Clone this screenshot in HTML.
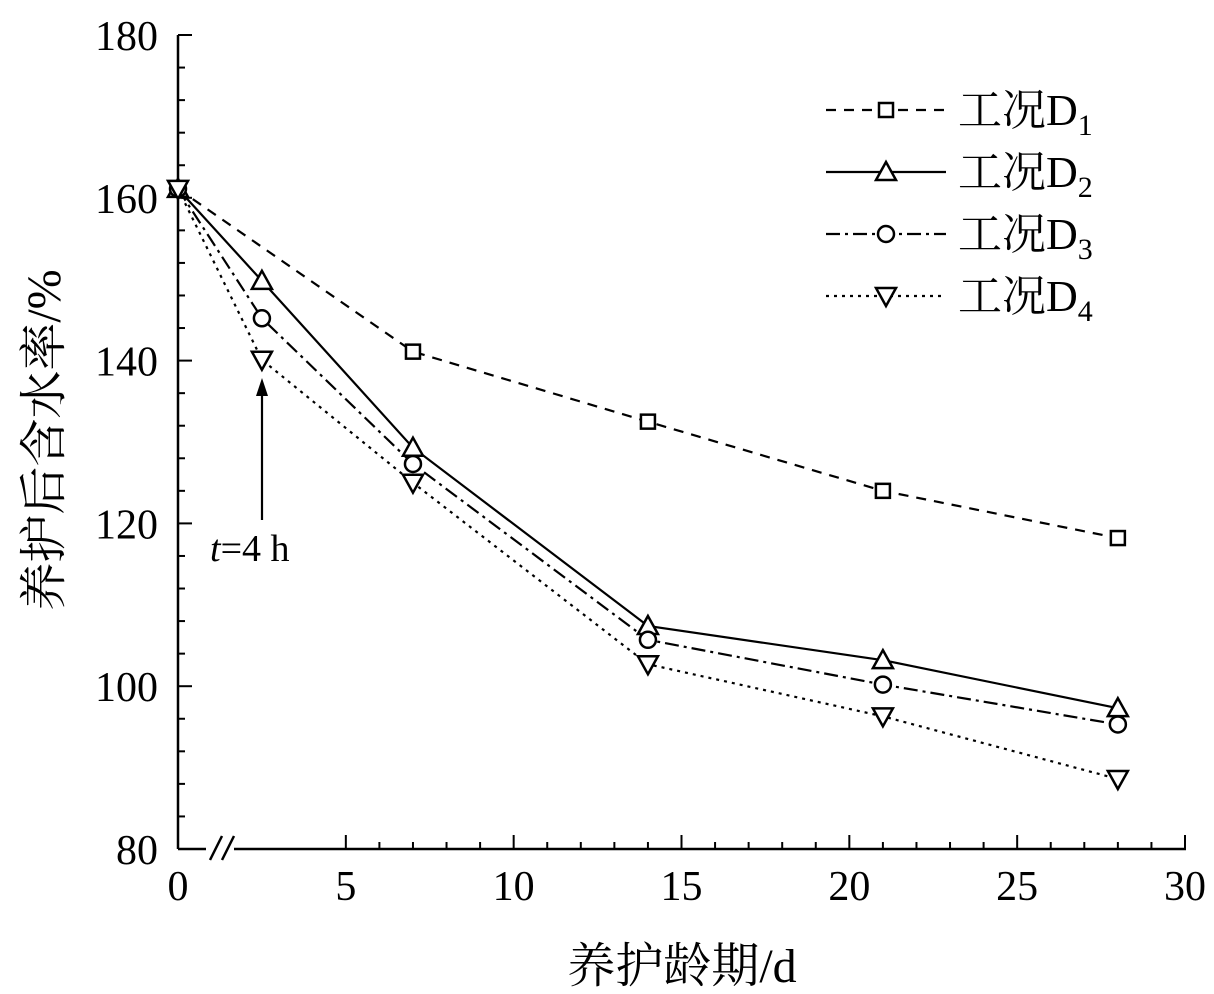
<!DOCTYPE html>
<html><head><meta charset="utf-8"><style>
html,body{margin:0;padding:0;background:#fff;}
svg{display:block;font-family:"Liberation Serif","Noto Serif CJK SC",serif;}
</style></head><body>
<svg id="chart" width="1214" height="994" viewBox="0 0 1214 994"></svg>
<script>
const xCats = [0, 2.5, 7, 14, 21, 28];
const d1 = [161.1, null, 141.1, 132.5, 124.0, 118.2];
const d2 = [161.1, 149.8, 129.3, 107.4, 103.2, 97.3];
const d3 = [161.1, 145.2, 127.3, 105.7, 100.2, 95.3];
const d4 = [161.1, 140.1, 125.0, 102.7, 96.3, 88.6];
const xTicks = [0, 5, 10, 15, 20, 25, 30];
const yTicks = [80, 100, 120, 140, 160, 180];

const NS = "http://www.w3.org/2000/svg";
const svg = document.getElementById('chart');
const X = v => 178 + v * (1185 - 178) / 30;
const Y = v => 849 - (v - 80) * (849 - 35) / 100;
function mk(tag, attrs, parent) {
  const e = document.createElementNS(NS, tag);
  for (const k in attrs) e.setAttribute(k, attrs[k]);
  (parent || svg).appendChild(e);
  return e;
}
let e = mk('line', {x1:178, y1:35, x2:178, y2:849, stroke:'#000','stroke-width':2.5});


e = mk('line', {x1:178, y1:849, x2:1186, y2:849, stroke:'#000','stroke-width':2.5});


mk('rect', {x:206, y:838, width:28, height:20, fill:'#fff'});
e = mk('path', {d:'M210 860 L222 836 M222 860 L234 836', stroke:'#000','stroke-width':2.5, fill:'none'});


for (let v = 5; v <= 30; v++) {
  const major = v % 5 === 0;
  mk('line', {x1:X(v), y1:849, x2:X(v), y2:849 - (major ? 14 : 7), stroke:'#000','stroke-width':2});
}
xTicks.forEach(v => {
  const t = mk('text', {x:X(v), y:900, 'font-size':42, 'text-anchor':'middle'});
  t.textContent = v;
  
  
});
for (let v = 80; v <= 180; v += 4) {
  const major = (v - 80) % 20 === 0;
  mk('line', {x1:178, y1:Y(v), x2:178 + (major ? 14 : 7), y2:Y(v), stroke:'#000','stroke-width':2});
}
yTicks.forEach(v => {
  const t = mk('text', {x:158, y:Y(v) + 15, 'font-size':42, 'text-anchor':'end'});
  t.textContent = v;
  
  
});
let t = mk('text', {x:682, y:982, 'font-size':48, 'text-anchor':'middle'});
t.textContent = '养护龄期/d';


t = mk('text', {x:0, y:0, 'font-size':48, 'text-anchor':'middle', transform:'translate(60,440) rotate(-90)'});
t.textContent = '养护后含水率/%';



function marker(kind, cx, cy, g) {
  const s = {fill:'#fff', stroke:'#000', 'stroke-width':2.5};
  if (kind === 'sq') return mk('rect', Object.assign({x:cx-7, y:cy-7, width:14, height:14}, s), g);
  if (kind === 'tri') return mk('path', Object.assign({d:`M${cx} ${cy-10} L${cx+10} ${cy+8} L${cx-10} ${cy+8} Z`}, s), g);
  if (kind === 'cir') return mk('circle', Object.assign({cx:cx, cy:cy, r:8}, s), g);
  return mk('path', Object.assign({d:`M${cx} ${cy+10} L${cx+10} ${cy-8} L${cx-10} ${cy-8} Z`}, s), g);
}
const series = [
  {data:d1, dash:'10 8', kind:'sq', name:'series-d1'},
  {data:d2, dash:'', kind:'tri', name:'series-d2'},
  {data:d3, dash:'14 5 3 5', kind:'cir', name:'series-d3'},
  {data:d4, dash:'3 5', kind:'dtri', name:'series-d4'}
];
series.forEach((s, i) => {
  const g = mk('g', {});
  
  
  const pts = [];
  s.data.forEach((v, j) => { if (v !== null) pts.push([X(xCats[j]), Y(v)]); });
  const attrs = {points: pts.map(p => p.join(',')).join(' '), fill:'none', stroke:'#000', 'stroke-width':2.2};
  if (s.dash) attrs['stroke-dasharray'] = s.dash;
  mk('polyline', attrs, g);
  pts.forEach(p => {
    const m = marker(s.kind, p[0], p[1], g);
    
    
  });
  const ly = 110 + i * 62;
  const lg = mk('g', {});
  
  
  const la = {x1:826, y1:ly, x2:946, y2:ly, stroke:'#000', 'stroke-width':2.2};
  if (s.dash) la['stroke-dasharray'] = s.dash;
  mk('line', la, lg);
  marker(s.kind, 886, ly, lg);
  const lt = mk('text', {x:958, y:ly + 15, 'font-size':44}, lg);
  lt.textContent = '工况D';
  const sub = mk('tspan', {'font-size':30, dy:10}, lt);
  sub.textContent = String(i + 1);
});
e = mk('line', {x1:262, y1:520, x2:262, y2:392, stroke:'#000', 'stroke-width':2.2});


mk('path', {d:'M262 378 L256 396 L268 396 Z', fill:'#000'});
t = mk('text', {x:210, y:561, 'font-size':38});
t.innerHTML = '<tspan font-style="italic">t</tspan>=4 h';


</script>
</body></html>
